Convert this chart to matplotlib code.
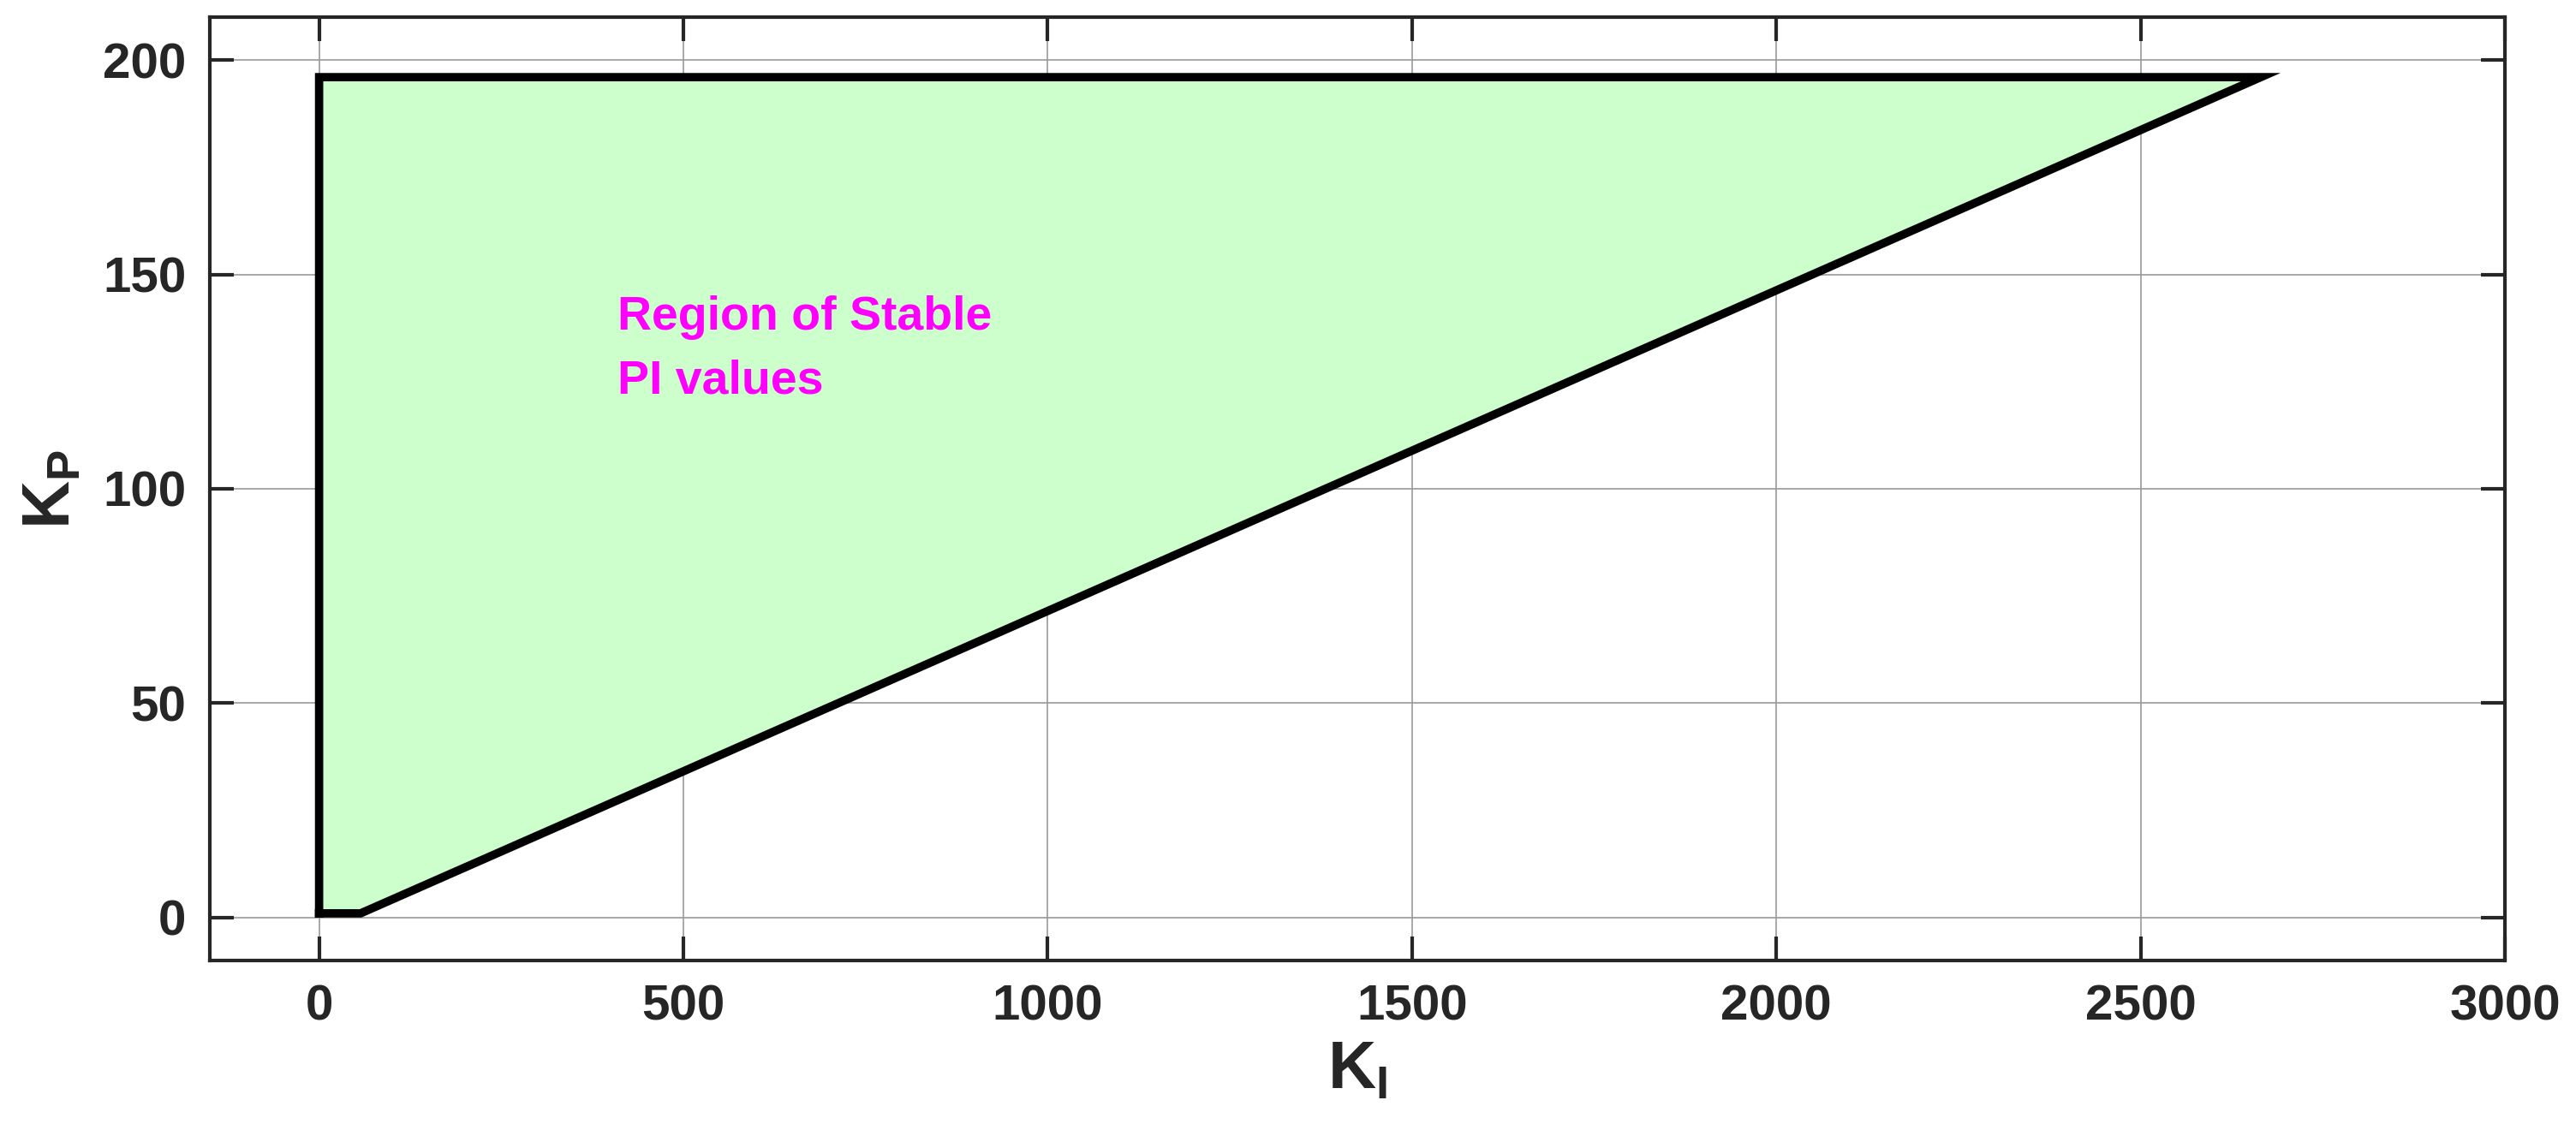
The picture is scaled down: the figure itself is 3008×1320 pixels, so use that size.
import matplotlib
matplotlib.use("Agg")
import matplotlib.pyplot as plt

# Stability region boundary (K_I, K_P)
ki = [0, 0, 2665, 57, 0]
kp = [1, 196, 196, 1, 1]

xticks = [0, 500, 1000, 1500, 2000, 2500, 3000]
yticks = [0, 50, 100, 150, 200]

plt.rcParams['font.family'] = ['Liberation Sans', 'DejaVu Sans']
plt.rcParams['mathtext.fontset'] = 'custom'
plt.rcParams['mathtext.bf'] = 'Liberation Sans:bold'
plt.rcParams['mathtext.rm'] = 'Liberation Sans:bold'

fig = plt.figure(figsize=(30.08, 13.2), dpi=100)
ax = fig.add_axes([245 / 3008, 1 - 1122 / 1320, (2925 - 245) / 3008, (1122 - 20) / 1320])

ax.fill(ki, kp, color='#ccffcc', zorder=2)
ax.plot(ki, kp, color='black', lw=7, solid_joinstyle='miter', zorder=3)

ax.set_xlim(-150, 3000)
ax.set_ylim(-10, 210)
ax.set_xticks(xticks)
ax.set_yticks(yticks)
ax.grid(True, color='#999999', lw=1.2, zorder=0)
ax.tick_params(direction='in', length=20, width=3, labelsize=42, top=True, right=True, pad=20, color='#262626')
for lab in ax.get_xticklabels() + ax.get_yticklabels():
    lab.set_fontweight('heavy')
    lab.set_color('#262626')
for s in ax.spines.values():
    s.set_linewidth(3)
    s.set_color('#262626')

ax.set_xlabel(r'$\mathbf{K_I}$', fontsize=56, color='#262626', labelpad=8)
ax.set_ylabel(r'$\mathbf{K_P}$', fontsize=56, color='#262626', labelpad=16)

ax.text(410, 140, 'Region of Stable', color='magenta', fontsize=40, fontweight='heavy', va='center', zorder=4)
ax.text(410, 125, 'PI values', color='magenta', fontsize=40, fontweight='heavy', va='center', zorder=4)

fig.savefig('out.png', dpi=100)
